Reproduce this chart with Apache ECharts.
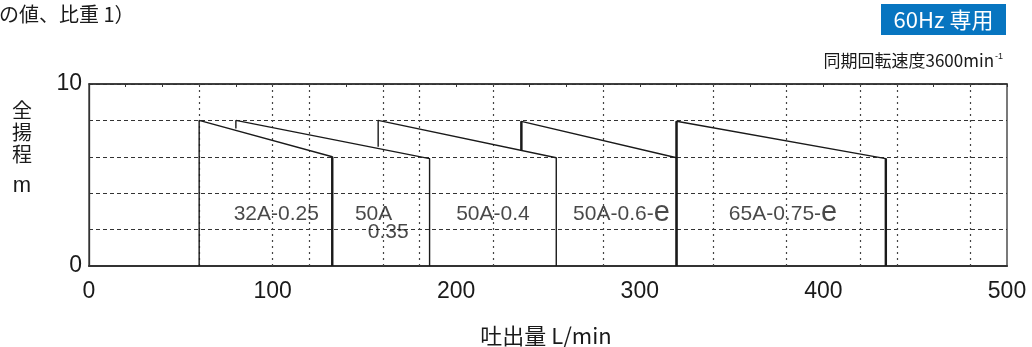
<!DOCTYPE html>
<html><head><meta charset="utf-8">
<script src="https://cdn.jsdelivr.net/npm/echarts@6.0.0/dist/echarts.min.js"></script>
<style>html,body{margin:0;padding:0;background:#fff}#c{width:1032px;height:347px}</style>
</head><body><div id="c"></div>
<script>
// pump models and their operating ranges (flow L/min, head m)
const models = ['32A-0.25','50A-0.35','50A-0.4','50A-0.6-e','65A-0.75-e'];
const flowStart = [60, 80, 157.5, 235.5, 320];
const flowEnd = [132.5, 185.5, 254.5, 320, 434];
const headStart = [8, 8, 8, 7.95, 7.95];
const headEnd = [6, 5.9, 5.95, 5.95, 5.9];
const headFoot = [0, 7.55, 6.55, 6.35, 0];
const xTicks = [0, 100, 200, 300, 400, 500];
const yTicks = [0, 10];
const dottedGridX = [60, 100, 120, 160, 180, 220, 280, 340, 380, 420, 440, 480];
const labelText = ['32A-0.25', '50A', '0.35', '50A-0.4', '50A-0.6-e', '65A-0.75-e'];
const labelX = [102, 155, 163, 220, 290, 378];
const labelY = [2.85, 2.85, 1.85, 2.85, 2.85, 2.85];

const leftW = [1.3, 1.3, 1.3, 2.4, 2.4];
const rightW = [2.4, 1.3, 1.3, 1.3, 2.4];
const INK = '#1a1a1a';
const CJK = '"Noto Sans CJK JP"';
const LAT = '"Liberation Sans", Arial, sans-serif';

const series = [];
models.forEach((m, i) => {
  series.push({
    name: m, type: 'line', symbol: 'none', silent: true, z: 5,
    lineStyle: { color: INK, width: 1.4 },
    data: [[flowStart[i], headFoot[i]], [flowStart[i], headStart[i]], [flowEnd[i], headEnd[i]], [flowEnd[i], 0]]
  });
  if (leftW[i] > 2) series.push({
    type: 'line', symbol: 'none', silent: true, z: 6, lineStyle: { color: INK, width: leftW[i] },
    data: [[flowStart[i], headFoot[i]], [flowStart[i], headStart[i]]]
  });
  if (rightW[i] > 2) series.push({
    type: 'line', symbol: 'none', silent: true, z: 6, lineStyle: { color: INK, width: rightW[i] },
    data: [[flowEnd[i], headEnd[i]], [flowEnd[i], 0]]
  });
});
series.push({
  type: 'scatter', symbolSize: 0, silent: true, z: 7,
  data: labelText.map((t, i) => ({ name: t, value: [labelX[i], labelY[i]] })),
  label: {
    show: true, position: 'inside', color: INK, fontFamily: LAT, fontSize: 21,
    formatter: p => p.name.replace(/-e$/, '-{e|e}'),
    rich: { e: { fontSize: 29, fontFamily: LAT, color: INK, padding: [0, 0, 3, 0] } }
  },
  markLine: {
    silent: true, symbol: 'none', label: { show: false },
    lineStyle: { type: [2, 4], color: '#444', width: 1.2 },
    data: dottedGridX.map(x => ({ xAxis: x }))
  }
});

const chart = echarts.init(document.getElementById('c'));
chart.setOption({
  animation: false,
  backgroundColor: '#fff',
  grid: { left: 89, right: 25, top: 84, bottom: 81, show: true, borderColor: '#333', borderWidth: 1.3 },
  xAxis: [{
    type: 'value', min: 0, max: 500, interval: 100,
    axisLine: { show: true, lineStyle: { color: '#333', width: 2 } },
    axisTick: { show: false }, splitLine: { show: false },
    axisLabel: { fontFamily: LAT, fontSize: 23, color: INK, margin: 14,
      formatter: v => xTicks.includes(v) ? String(v) : '' }
  }, {
    type: 'value', position: 'top', min: 0, max: 500, interval: 20,
    axisLine: { show: true, lineStyle: { color: '#333', width: 1.5 } },
    axisTick: { show: true, inside: true, length: 3, lineStyle: { color: '#333' } },
    axisLabel: { show: false }, splitLine: { show: false }
  }],
  yAxis: {
    type: 'value', min: 0, max: 10, interval: 2,
    axisLine: { show: true, lineStyle: { color: '#333', width: 1.3 } },
    axisTick: { show: false },
    splitLine: { show: true, lineStyle: { type: [4, 3], color: '#333', width: 1 } },
    axisLabel: { fontFamily: LAT, fontSize: 23, color: INK, margin: 7,
      formatter: v => yTicks.includes(v) ? String(v) : '' }
  },
  series: series,
  graphic: [
    { type: 'text', left: -1, top: 4, style: { text: 'の値、比重 1）', font: '20px ' + CJK, fill: INK } },
    { type: 'rect', shape: { x: 881, y: 4, width: 125, height: 31 }, style: { fill: '#0775c0' } },
    { type: 'text', x: 943.5, y: 20, style: { text: '60Hz 専用', font: '22px ' + CJK, fill: '#fff', align: 'center', verticalAlign: 'middle' } },
    { type: 'text', x: 1003, y: 61, style: {
        text: '{a|同期回転速度3600min}{s|-1}', align: 'right', verticalAlign: 'middle',
        rich: { a: { fontSize: 17, fontFamily: CJK, fill: INK }, s: { fontSize: 9, fontFamily: LAT, fill: INK, padding: [0, 0, 9, 1] } } } },
    { type: 'text', x: 22, y: 99, style: { text: '全\n揚\n程', font: '20px ' + CJK, fill: INK, align: 'center', lineHeight: 22 } },
    { type: 'text', x: 22, y: 186, style: { text: 'm', font: '22px ' + LAT, fill: INK, align: 'center', verticalAlign: 'middle' } },
    { type: 'text', x: 546, y: 336, style: { text: '吐出量 L/min', font: '22px ' + CJK, fill: INK, align: 'center', verticalAlign: 'middle' } }
  ]
});
</script>
</body></html>
